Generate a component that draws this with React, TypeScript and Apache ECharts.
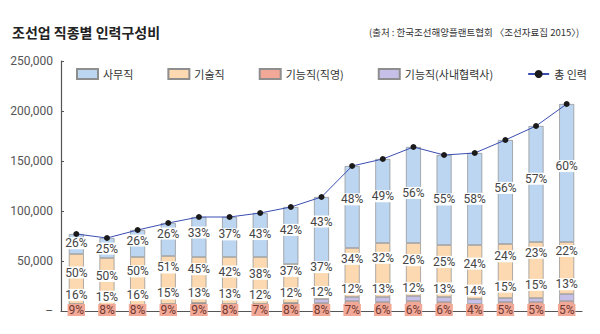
import React, { useEffect, useRef } from 'react';
import * as echarts from 'echarts';

// Categories (years, axis labels hidden in the reference)
const years = ['1998', '1999', '2000', '2001', '2002', '2003', '2004', '2005', '2006', '2007', '2008', '2009', '2010', '2011', '2012', '2013', '2014'];

// Total workforce (line "총 인력")
const totalWorkers = [77000, 73000, 81000, 88000, 94000, 94000, 98000, 104000, 114000, 145000, 152000, 164000, 156000, 158000, 171000, 185000, 207000];

// Share labels (%) as printed on the bars, bottom to top
const pctDirect = [9, 8, 8, 9, 9, 8, 7, 8, 8, 7, 6, 6, 6, 4, 5, 5, 5];
const pctSub = [16, 15, 16, 15, 13, 13, 12, 12, 12, 12, 13, 12, 13, 14, 15, 15, 13];
const pctTech = [50, 50, 50, 51, 45, 42, 38, 37, 37, 34, 32, 26, 25, 24, 24, 23, 22];
const pctOffice = [26, 25, 26, 26, 33, 37, 43, 42, 43, 48, 49, 56, 55, 58, 56, 57, 60];

// Coloured segments as drawn in the picture (persons)
const segDirect = [7000, 6000, 6000, 7000, 8000, 7000, 7000, 8000, 8000, 10000, 9000, 10000, 9000, 7000, 9000, 9000, 10000];
const segSub = [0, 0, 0, 0, 0, 0, 0, 0, 4000, 4000, 5000, 5000, 5000, 5000, 4000, 4000, 7000];
const segTech = [50000, 47000, 48000, 48000, 46000, 47000, 47000, 39000, 36000, 49000, 54000, 53000, 52000, 54000, 54000, 56000, 52000];
const segOffice = [20000, 20000, 27000, 33000, 40000, 40000, 44000, 57000, 66000, 82000, 84000, 96000, 90000, 92000, 104000, 116000, 138000];

const yTicks = [0, 50000, 100000, 150000, 200000, 250000];

const C_OFFICE = '#bcd5f0';
const C_TECH = '#fcd9b1';
const C_DIRECT = '#f2a896';
const C_SUB = '#c6c0e8';

export default function App() {
  const ref = useRef<HTMLDivElement>(null);
  useEffect(() => {
    document.body.style.margin = '0';
    if (!ref.current) return;
    const chart = echarts.init(ref.current, undefined, { renderer: 'svg' });
    const font = 'Roboto, "Noto Sans", sans-serif';
    const kfont = '"Noto Sans CJK KR", "Noto Sans", sans-serif';
    const visBar = (name: string, data: number[], color: string) => ({
      type: 'bar',
      name,
      stack: 'vis',
      barWidth: 15,
      barGap: '-100%',
      z: 2,
      itemStyle: { color, borderColor: '#8e8e8e', borderWidth: 0.7 },
      emphasis: { disabled: true },
      data,
    });
    const labelDefs = [
      { arr: pctDirect, bg: C_DIRECT, color: '#6e3a33', pos: 'insideBottom', off: [0, 5] },
      { arr: pctSub, bg: '#ffffff', color: '#444', pos: 'inside', off: [0, -3] },
      { arr: pctTech, bg: '#ffffff', color: '#444', pos: 'inside', off: [0, 0] },
      { arr: pctOffice, bg: '#ffffff', color: '#444', pos: 'inside', off: [0, 0] },
    ];
    const labelSeries = labelDefs.map((d, i) => ({
      type: 'bar',
      name: 'lbl' + i,
      stack: 'lbl',
      barWidth: 15,
      barGap: '-100%',
      z: 4,
      silent: true,
      itemStyle: { color: 'rgba(0,0,0,0)' },
      emphasis: { disabled: true },
      label: {
        show: true,
        position: d.pos,
        distance: 0,
        offset: d.off,
        formatter: (p: any) => d.arr[p.dataIndex] + '%',
        backgroundColor: d.bg,
        padding: [0, 1, 0, 1],
        color: d.color,
        fontSize: 12,
        fontFamily: font,
      },
      data: totalWorkers.map((t, j) => (t * d.arr[j]) / 100),
    }));

    chart.setOption({
      animation: false,
      title: [
        {
          text: '조선업 직종별 인력구성비',
          left: 7,
          top: 20,
          textStyle: { fontSize: 14, fontWeight: 'bold', color: '#222', fontFamily: kfont },
        },
        {
          text: '(출처 : 한국조선해양플랜트협회 〈조선자료집 2015〉)',
          right: 11,
          top: 22,
          textStyle: { fontSize: 9.5, fontWeight: 'normal', color: '#333', fontFamily: kfont },
        },
      ],
      legend: {
        left: 71,
        top: 63,
        itemWidth: 21,
        itemHeight: 10,
        itemGap: 34,
        textStyle: { fontSize: 11, color: '#333', fontFamily: kfont },
        data: [
          { name: '사무직', icon: 'rect' },
          { name: '기술직', icon: 'rect' },
          { name: '기능직(직영)', icon: 'rect' },
          { name: '기능직(사내협력사)', icon: 'rect' },
          { name: '총 인력' },
        ],
      },
      grid: { left: 61, right: 18, top: 61, bottom: 23, containLabel: false },
      xAxis: {
        type: 'category',
        data: years,
        axisLine: { lineStyle: { color: '#555', width: 1.2 } },
        axisTick: { show: false },
        axisLabel: { show: false },
      },
      yAxis: {
        type: 'value',
        min: yTicks[0],
        max: yTicks[yTicks.length - 1],
        interval: 50000,
        axisLine: { show: true, lineStyle: { color: '#555', width: 1.2 } },
        axisTick: { show: true, inside: true, length: 3, lineStyle: { color: '#555' } },
        splitLine: { show: false },
        axisLabel: {
          margin: 8,
          fontSize: 12,
          color: '#555',
          fontFamily: font,
          formatter: (v: number) => (v === 0 ? '–' : v.toLocaleString('en-US')),
        },
      },
      series: [
        visBar('기능직(직영)', segDirect, C_DIRECT),
        visBar('기능직(사내협력사)', segSub, C_SUB),
        visBar('기술직', segTech, C_TECH),
        visBar('사무직', segOffice, C_OFFICE),
        ...labelSeries,
        {
          type: 'line',
          name: '총 인력',
          data: totalWorkers,
          z: 6,
          symbol: 'circle',
          symbolSize: 6,
          itemStyle: { color: '#1a1a1a' },
          lineStyle: { color: '#3a4db0', width: 1 },
          emphasis: { disabled: true },
        },
      ],
    });
    return () => chart.dispose();
  }, []);
  return <div ref={ref} style={{ width: 600, height: 334 }} />;
}
